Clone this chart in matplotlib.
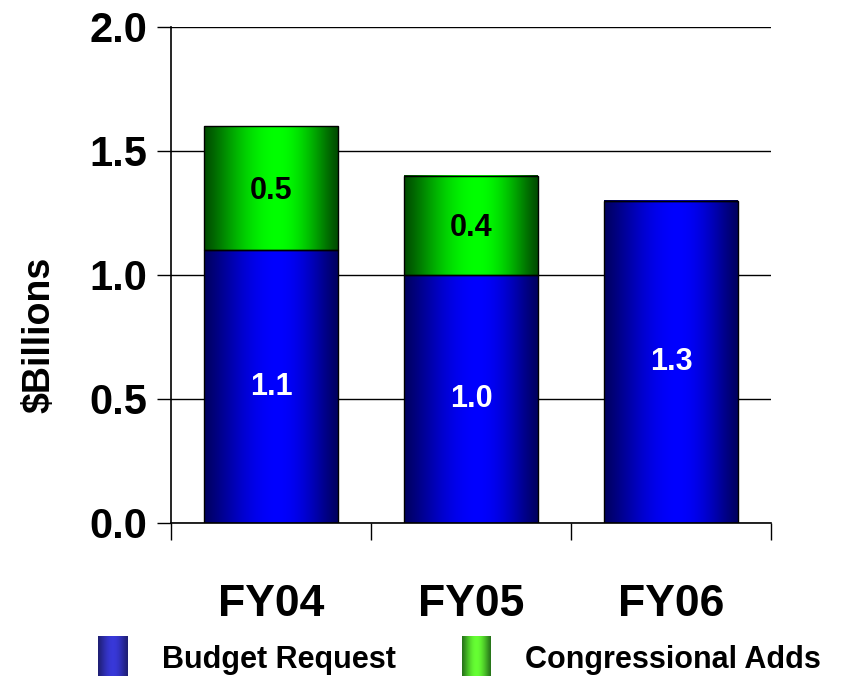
import numpy as np
import matplotlib
matplotlib.use("Agg")
import matplotlib.pyplot as plt
from matplotlib import font_manager as fm

categories = ["FY04", "FY05", "FY06"]
budget_request = [1.1, 1.0, 1.3]
congressional_adds = [0.5, 0.4, 0.0]
yticks = [0.0, 0.5, 1.0, 1.5, 2.0]

names = {f.name for f in fm.fontManager.ttflist}
fam = ["Liberation Sans Narrow"] if "Liberation Sans Narrow" in names else []
fam += ["Liberation Sans", "DejaVu Sans"]
plt.rcParams["font.family"] = fam
plt.rcParams["font.weight"] = "bold"

fig = plt.figure(figsize=(8.47, 6.78), dpi=100)
ax = fig.add_axes([171/847, 1-523/678, 600/847, 496/678])

def grad(c_edge, c_mid, n=200, peak=0.55):
    t = np.linspace(0, 1, n)
    w = np.where(t < peak, t/peak, (1-t)/(1-peak))
    w = np.sin(w*np.pi/2)**1.2
    ce = np.array(c_edge); cm = np.array(c_mid)
    img = ce[None, :]*(1-w[:, None]) + cm[None, :]*w[:, None]
    return img[None, :, :]

blue_img = grad((0, 0, 0.38), (0, 0, 1.0))
green_img = grad((0, 0.30, 0), (0, 1.0, 0))

width = 0.67
x = np.arange(len(categories))
bars1 = ax.bar(x, budget_request, width, facecolor="none", edgecolor="black", lw=1, zorder=3)
bars2 = ax.bar(x, congressional_adds, width, bottom=budget_request, facecolor="none",
               edgecolor="black", lw=1, zorder=3)
for b in bars1:
    ax.imshow(blue_img, extent=(b.get_x(), b.get_x()+b.get_width(), b.get_y(), b.get_y()+b.get_height()),
              aspect="auto", zorder=2, interpolation="bilinear")
for b in bars2:
    if b.get_height() > 0:
        ax.imshow(green_img, extent=(b.get_x(), b.get_x()+b.get_width(), b.get_y(), b.get_y()+b.get_height()),
                  aspect="auto", zorder=2, interpolation="bilinear")

for i in range(len(categories)):
    ax.text(x[i], budget_request[i]/2, f"{budget_request[i]:.1f}", ha="center", va="center",
            color="white", fontsize=22, fontweight="bold", zorder=4)
    if congressional_adds[i] > 0:
        ax.text(x[i], budget_request[i] + congressional_adds[i]/2 - 0.01, f"{congressional_adds[i]:.1f}",
                ha="center", va="center", color="black", fontsize=22, fontweight="bold", zorder=4)

ax.set_xlim(-0.5, 2.5)
ax.set_ylim(0, 2.0)
ax.set_yticks(yticks)
ax.set_yticklabels([f"{v:.1f}" for v in yticks], fontsize=30, fontweight="bold")
ax.tick_params(axis="y", length=10, width=1, pad=7, direction="out")
ax.set_xticks(x)
ax.set_xticklabels(categories, fontsize=32, fontweight="bold")
ax.tick_params(axis="x", length=0, pad=44)
ax.set_xticks([-0.5, 0.5, 1.5, 2.5], minor=True)
ax.tick_params(axis="x", which="minor", length=12, width=1)
ax.grid(axis="y", color="black", lw=1, zorder=1)
ax.set_axisbelow(True)
for s in ["top", "right"]:
    ax.spines[s].set_visible(False)
for s in ["left", "bottom"]:
    ax.spines[s].set_linewidth(1.2)

ax.set_ylabel(r"\$Billions", fontsize=27, fontweight="bold")
ax.yaxis.set_label_coords(-0.19, 0.38)

# legend
def legend_patch(x0, c_edge, c_mid, label, tx):
    lax = fig.add_axes([x0/847, 1-676/678, 29/847, 40/678])
    lax.imshow(grad(c_edge, c_mid, peak=0.5), aspect="auto", extent=(0, 1, 0, 1), interpolation="bilinear")
    lax.set_axis_off()
    fig.text(tx/847, 1-660/678, label, fontsize=22, fontweight="bold", va="center", ha="left")

legend_patch(98, (0.12, 0.12, 0.45), (0.22, 0.22, 0.85), "Budget Request", 162)
legend_patch(462, (0.15, 0.45, 0.1), (0.4, 1.0, 0.2), "Congressional Adds", 525)

fig.savefig("out.png", dpi=100)
